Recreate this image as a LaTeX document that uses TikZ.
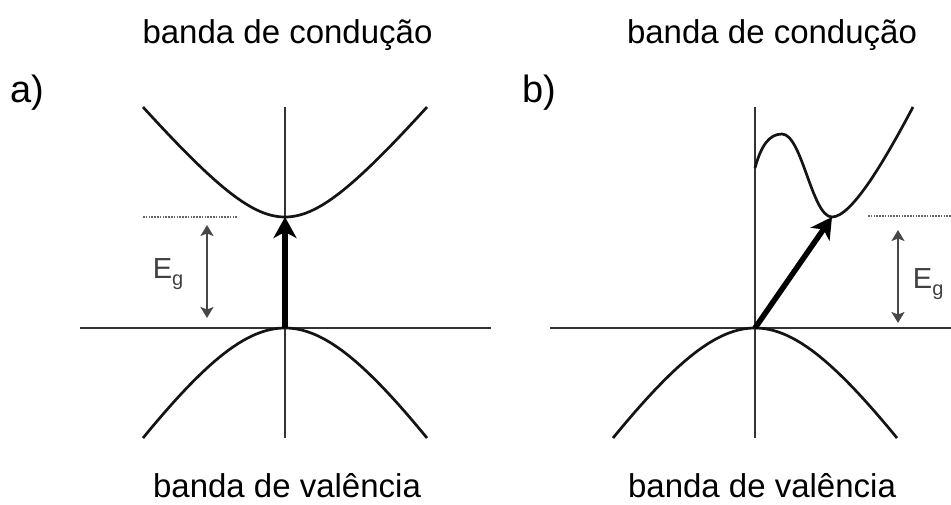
\documentclass[tikz,border=0pt]{standalone}
\usepackage{fontspec}
\setmainfont{Liberation Sans}
\usetikzlibrary{arrows.meta}
\begin{document}
\begin{tikzpicture}[x=1pt,y=-1pt,
  axis/.style={line width=2.1pt, draw=black!80},
  band/.style={line width=2.7pt, draw=black!92},
  level/.style={line width=1.4pt, draw=black!60, dash pattern=on 1.6pt off 1.2pt},
  gap/.style={line width=1.7pt, draw=black!72, {Stealth[length=11pt,width=13pt,inset=2.5pt]}-{Stealth[length=11pt,width=13pt,inset=2.5pt]}},
  trans/.style={line width=5.5pt, draw=black, -{Stealth[length=21pt,width=23pt,inset=6pt]}},
  lbl/.style={inner sep=0pt, font=\fontsize{33}{38}\selectfont, anchor=base},
  panel/.style={inner sep=0pt, font=\fontsize{38}{42}\selectfont, anchor=base west},
  eg/.style={inner sep=0pt, anchor=base west, text=black!75}
]
\useasboundingbox (0,0) rectangle (951,504);

% ---------- panel a ----------
\coordinate (aO) at (285,328);
\coordinate (aC) at (285,217);
\coordinate (aTop) at (285,107);
\coordinate (aBot) at (285,438);
\coordinate (aL) at (80,328);
\coordinate (aR) at (491,328);
\coordinate (aLvL) at (143,217);
\coordinate (aLvR) at (238,217);
\coordinate (aGt) at (207,225);
\coordinate (aGb) at (207,318);

\draw[axis] (aL) -- (aR);
\draw[axis] (aTop) -- (aBot);
\draw[band] plot[domain=-142:142,samples=81,smooth] ({285+\x},{217-78.4*(sqrt(1+(\x/65)^2)-1)});
\draw[band] plot[domain=-142:142,samples=81,smooth] ({285+\x},{328+149.3*(sqrt(1+(\x/100)^2)-1)});
\draw[level] (aLvL) -- (aLvR);
\draw[gap] (aGt) -- (aGb);
\draw[trans] (aO) -- (aC);

\node[panel] (pa) at (10.5,102) {a)};
\node[lbl] (ca) at (287.5,43) {banda de condução};
\node[lbl] (va) at (287,497) {banda de valência};
\node[eg] (ega) at (152.7,278) {\fontsize{29}{30}\selectfont E\raisebox{-7pt}{\fontsize{20}{20}\selectfont g}};

% ---------- panel b ----------
\coordinate (bO) at (755,328);
\coordinate (bC) at (832,217);
\coordinate (bTop) at (755,107);
\coordinate (bBot) at (755,438);
\coordinate (bL) at (550,328);
\coordinate (bR) at (951,328);
\coordinate (bLvL) at (868,216);
\coordinate (bLvR) at (951,216);
\coordinate (bGt) at (898,230);
\coordinate (bGb) at (898,323);
\coordinate (bS) at (755,168);
\coordinate (bP) at (782,134);
\coordinate (bE) at (913,107);

\draw[axis] (bL) -- (bR);
\draw[axis] (bTop) -- (bBot);
\draw[band] plot[domain=-142:142,samples=81,smooth] ({755+\x},{328+149.3*(sqrt(1+(\x/100)^2)-1)});
\draw[band] (bS) .. controls (761,146) and (769,134) .. (bP)
  .. controls (802,134) and (812,217) .. (bC)
  .. controls (852,217) and (886,158) .. (bE);
\draw[level] (bLvL) -- (bLvR);
\draw[gap] (bGt) -- (bGb);
\draw[trans] (bO) -- (bC);

\node[panel] (pb) at (522.4,102) {b)};
\node[lbl] (cb) at (772,43) {banda de condução};
\node[lbl] (vb) at (762,497) {banda de valência};
\node[eg] (egb) at (912.7,288) {\fontsize{29}{30}\selectfont E\raisebox{-7pt}{\fontsize{20}{20}\selectfont g}};
\end{tikzpicture}
\end{document}
